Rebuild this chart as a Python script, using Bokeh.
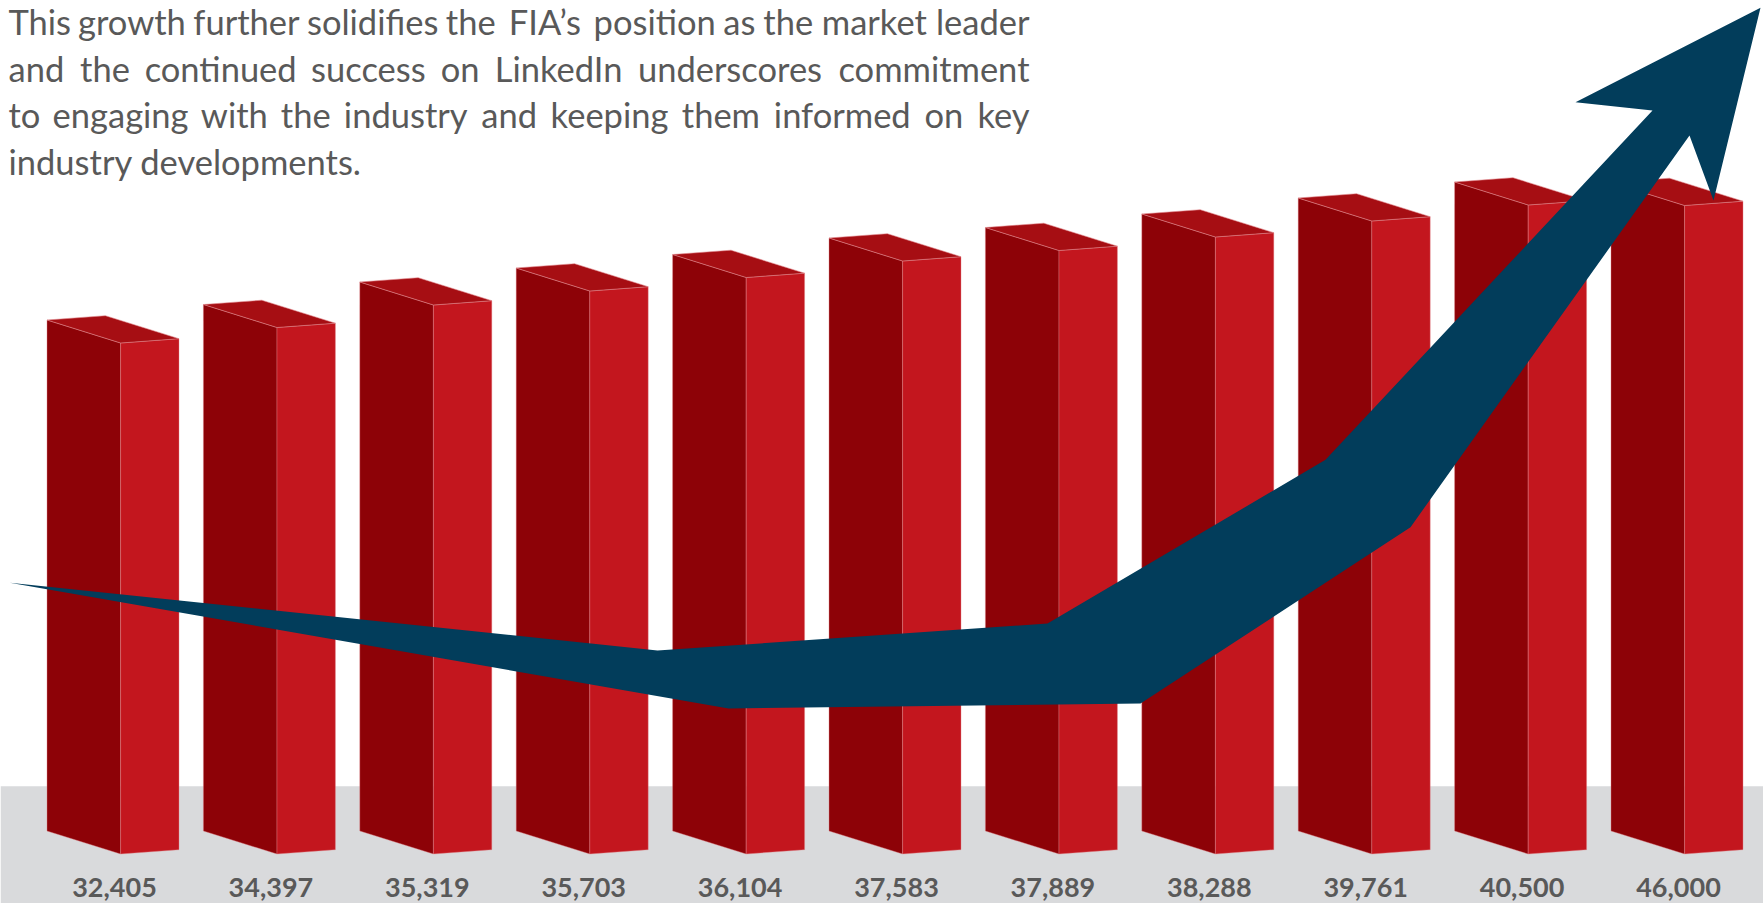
from bokeh.plotting import figure
from bokeh.models import Range1d
from bokeh.core.properties import value
from bokeh.embed import file_html
from bokeh.resources import INLINE

# ---- data ----
followers = [32405, 34397, 35319, 35703, 36104, 37583, 37889, 38288, 39761, 40500, 46000]
value_labels = [f"{v:,}" for v in followers]
# visual height of each drawn column (as it appears in the infographic)
bar_levels = [511, 526.5, 549, 563, 576.5, 593, 603.5, 617, 633, 649, 648.5]

paragraph_lines = [
    "This growth further solidifies the FIA\u2019s position as the market leader",
    "and the continued success on LinkedIn underscores commitment",
    "to engaging with the industry and keeping them informed on key",
    "industry developments.",
]
justified = [True, True, True, False]

# decorative trend arrow outline (page pixels, measured from the top)
arrow_px_x = [9.3, 657, 1047, 1325, 1652, 1575, 1760, 1713, 1689, 1410, 1140, 728]
arrow_px_y = [582.3, 650, 623, 459.3, 110, 101.7, 7.3, 200, 135, 526.7, 703, 708]

# ---- layout / style constants ----
W, H = 1763, 903
BASE = 830.5            # page y of bar bottoms (left corner)
X0, STEP = 46.5, 156.4  # first bar left edge, spacing
WL, WR = 73.6, 58.4     # left / right face widths
DL, DR = 23.0, 18.7     # perspective drop of front and right corners
GROUND_TOP = 785.7
TEXT_L, TEXT_R = 8, 1029

LEFT_C, RIGHT_C, TOP_C = "#8D0207", "#C3161E", "#A60E13"
EDGE_C = "#E0848A"
ARROW_C = "#023D5B"
TEXT_C = "#595959"

# rough relative glyph widths (em) used only to spread justified words
CW = dict(a=.51, b=.56, c=.46, d=.56, e=.52, f=.33, g=.50, h=.56, i=.24, j=.24, k=.50,
          l=.24, m=.84, n=.56, o=.56, p=.56, q=.56, r=.37, s=.43, t=.35, u=.56, v=.51,
          w=.77, x=.49, y=.51, z=.45, L=.48, I=.27, T=.56, F=.52, A=.68)


def word_w(wd):
    return sum(CW.get(ch, .5) for ch in wd)


p = figure(width=W, height=H, x_range=Range1d(0, W), y_range=Range1d(BASE - H, BASE),
           output_backend="svg", toolbar_location=None, min_border=0,
           x_axis_location=None, y_axis_location=None)
p.grid.visible = False
p.outline_line_color = None
p.background_fill_color = "white"
p.border_fill_color = "white"

# ground band
p.quad(left=0, right=W, bottom=BASE - H, top=BASE - GROUND_TOP,
       fill_color="#D9DADC", line_color=None)

lx, ly, rx, ry, tx, ty = [], [], [], [], [], []
for i, lvl in enumerate(bar_levels):
    x0 = X0 + STEP * i
    xf = x0 + WL
    xr = xf + WR
    lx.append([x0, xf, xf, x0]); ly.append([0, -DL, lvl - DL, lvl])
    rx.append([xf, xr, xr, xf]); ry.append([-DL, -DR, lvl - DR, lvl - DL])
    tx.append([x0, xf, xr, x0 + WR]); ty.append([lvl, lvl - DL, lvl - DR, lvl - DR + DL])

p.patches(lx, ly, fill_color=LEFT_C, line_color=EDGE_C, line_width=0.8, line_alpha=0.5)
p.patches(rx, ry, fill_color=RIGHT_C, line_color=EDGE_C, line_width=0.8, line_alpha=0.5)
p.patches(tx, ty, fill_color=TOP_C, line_color=EDGE_C, line_width=0.8, line_alpha=0.7)

# trend arrow
p.patch(list(arrow_px_x), [BASE - y for y in arrow_px_y],
        fill_color=ARROW_C, line_color=None)

# value labels
p.text(x=[X0 + STEP * i + 67.5 for i in range(len(followers))],
       y=[BASE - 886.5] * len(followers), text=value_labels,
       text_font=value("Lato"), text_font_style="bold", text_font_size="27px",
       text_color=TEXT_C, text_align="center", text_baseline="middle")

# paragraph (justified lines are spread word by word)
PFS = 34.5
centers = [b - 0.36 * PFS for b in [33.5, 80.2, 126.9, 173.6]]
tx_, ty_, tt_, ta_ = [], [], [], []
for line, c, just in zip(paragraph_lines, centers, justified):
    yy = BASE - c
    words = line.split(" ")
    if not just or len(words) < 2:
        tx_.append(TEXT_L); ty_.append(yy); tt_.append(line); ta_.append("left")
        continue
    ws = [word_w(wd) for wd in words]
    total = sum(ws)
    natural_space = 0.22
    scale_guess = (TEXT_R - TEXT_L) / PFS  # available em
    gap = (scale_guess - total) / (len(words) - 1)
    pos = 0.0
    for j, (wd, w) in enumerate(zip(words, ws)):
        if j == 0:
            tx_.append(TEXT_L); ta_.append("left")
        elif j == len(words) - 1:
            tx_.append(TEXT_R); ta_.append("right")
        else:
            tx_.append(TEXT_L + (pos + w / 2) * PFS); ta_.append("center")
        ty_.append(yy); tt_.append(wd)
        pos += w + gap

p.text(x=tx_, y=ty_, text=tt_, text_align=ta_,
       text_font=value("Lato"), text_font_size=f"{PFS}px", text_color=TEXT_C,
       text_baseline="middle")

open("out.html", "w").write(file_html(p, INLINE))
